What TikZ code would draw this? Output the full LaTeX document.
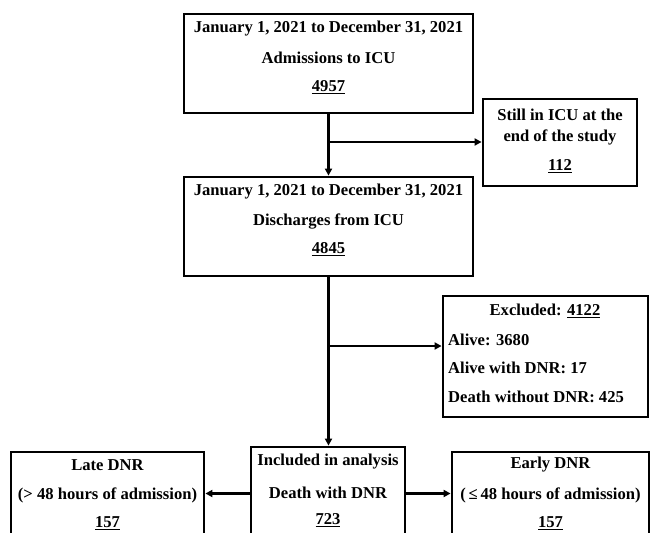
\documentclass[tikz,border=0pt]{standalone}
\usepackage{fontspec}
\setmainfont{Liberation Serif}
\usetikzlibrary{arrows.meta}
\begin{document}
\begin{tikzpicture}[x=1pt,y=-1pt,
  box/.style={draw,line width=2.8pt,inner sep=0pt},
  txt/.style={inner sep=0pt,font=\fontsize{16.6}{18}\selectfont\bfseries},
  conn/.style={line width=2.2pt,-{Triangle[length=7pt,width=7pt]}}]
\useasboundingbox (0,0) rectangle (651,533);
\clip (0,0) rectangle (651,533);
% boxes
\node[box,minimum width=289pt,minimum height=99pt] (b1) at (328.5,63.5) {};
\node[box,minimum width=154pt,minimum height=87pt] (still) at (560,142.5) {};
\node[box,minimum width=289pt,minimum height=99pt] (b2) at (328.5,226.5) {};
\node[box,minimum width=205pt,minimum height=121pt] (excl) at (545.5,356.5) {};
\node[box,minimum width=154pt,minimum height=93pt] (mid) at (328,493.5) {};
\node[box,minimum width=193pt,minimum height=88pt] (lft) at (107.5,496) {};
\node[box,minimum width=197pt,minimum height=88pt] (rgt) at (550.5,496) {};
% texts
\node[txt] (b1a) at (328.5,29) {January 1, 2021 to December 31, 2021};
\node[txt] (b1b) at (328.5,58) {Admissions to ICU};
\node[txt] (b1c) at (328.5,87) {\underline{4957}};
\node[txt] (sa) at (560,115) {Still in ICU at the};
\node[txt] (sb) at (560,137) {end of the study};
\node[txt] (sc) at (560,166) {\underline{112}};
\node[txt] (b2a) at (328.5,192) {January 1, 2021 to December 31, 2021};
\node[txt] (b2b) at (328.5,221) {Discharges from ICU};
\node[txt] (b2c) at (328.5,249) {\underline{4845}};
\node[txt] (ea) at (545,311) {Excluded: \underline{4122}};
\node[txt,anchor=west] (eb) at (448,340) {Alive: 3680};
\node[txt,anchor=west] (ec) at (448,368) {Alive with DNR: 17};
\node[txt,anchor=west] (ed) at (448,397) {Death without DNR: 425};
\node[txt] (ma) at (328,462) {Included in analysis};
\node[txt] (mb) at (328,493) {Death with DNR};
\node[txt] (mc) at (328,520) {\underline{723}};
\node[txt] (la) at (107.5,465) {Late DNR};
\node[txt] (lb) at (107.5,495) {(> 48 hours of admission)};
\node[txt] (lc) at (107.5,523) {\underline{157}};
\node[txt] (ra) at (550.5,465) {Early DNR};
\node[txt] (rb) at (550.5,495) {(\,≤\,48 hours of admission)};
\node[txt] (rc) at (550.5,523) {\underline{157}};
% connectors
\coordinate (j1) at (328.5,142);
\coordinate (j2) at (328.5,346);
\draw[conn] (b1.south) -- (b2.north);
\draw[conn] (j1) -- (j1 -| still.west);
\draw[conn] (b2.south) -- (b2.south |- mid.north);
\draw[conn] (j2) -- (j2 -| excl.west);
\draw[conn] (mid.west) -- (mid.west -| lft.east);
\draw[conn] (mid.east) -- (mid.east -| rgt.west);
\end{tikzpicture}
\end{document}
